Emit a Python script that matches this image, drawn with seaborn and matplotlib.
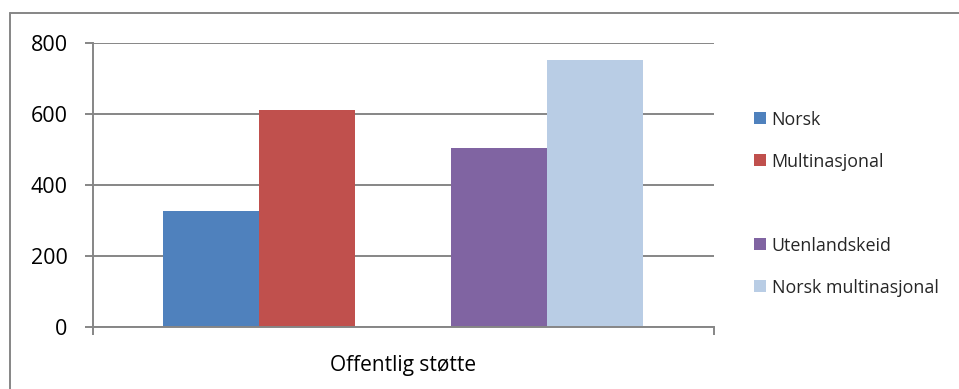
import numpy as np
import pandas as pd
import matplotlib
matplotlib.use("Agg")
import matplotlib.pyplot as plt
from matplotlib.patches import Patch
from matplotlib.lines import Line2D
import seaborn as sns

# ---- data ----
categories = ["Offentlig støtte"]
series = ["Norsk", "Multinasjonal", " ", "Utenlandskeid", "Norsk multinasjonal"]
values = [327, 611, np.nan, 504, 752]
colors = ["#4F81BD", "#C0504D", "#FFFFFF", "#8064A2", "#B9CDE5"]
yticks = [0, 200, 400, 600, 800]

df = pd.DataFrame({
    "kategori": [categories[0]] * len(series),
    "serie": series,
    "verdi": values,
})

sns.set_style("white")
plt.rcParams["font.family"] = ["Open Sans", "DejaVu Sans"]

W, H = 959, 389
fig = plt.figure(figsize=(W / 100, H / 100), dpi=100)
ax = fig.add_axes([92.7 / W, (H - 327) / H, (714 - 92.7) / W, (327 - 43.3) / H])

sns.barplot(data=df, x="kategori", y="verdi", hue="serie", hue_order=series,
            palette=colors, width=0.773, linewidth=0, saturation=1,
            legend=False, errorbar=None, ax=ax)

grid_c = "#868686"
ax.set_xlim(-0.5, 0.5)
ax.set_ylim(0, 800)
ax.set_yticks(yticks)
ax.set_yticklabels([str(t) for t in yticks])
ax.set_xlabel("")
ax.set_ylabel("")
ax.yaxis.grid(True, color=grid_c, linewidth=1.4)
ax.set_axisbelow(True)
for s in ["top", "right"]:
    ax.spines[s].set_visible(False)
for s in ["left", "bottom"]:
    ax.spines[s].set_color(grid_c)
    ax.spines[s].set_linewidth(1.4)

ax.tick_params(axis="y", which="major", length=6, width=1.4, color=grid_c,
               labelsize=15.5, pad=12, left=True, labelcolor="black")
ax.set_xticks([0])
ax.set_xticklabels(categories)
ax.tick_params(axis="x", which="major", length=0, labelsize=15, pad=20,
               labelcolor="black")
ax.set_xticks([-0.5, 0.5], minor=True)
ax.tick_params(axis="x", which="minor", length=6, width=1.4, color=grid_c,
               bottom=True)

handles = [Patch(facecolor=c, edgecolor="none") if s.strip() else
           Patch(facecolor="none", edgecolor="none")
           for s, c in zip(series, colors)]
fig.legend(handles=handles, labels=series, loc="center left",
           bbox_to_anchor=(754 / W, (H - 203.7) / H), frameon=False,
           fontsize=12.9, handlelength=0.66, handleheight=0.66,
           handletextpad=0.33, labelspacing=1.34, borderpad=0,
           borderaxespad=0)

# outer chart border (top and left edges visible)
fig.add_artist(Line2D([10 / W, 1.0], [(H - 13.3) / H] * 2, color=grid_c,
                      linewidth=1.4, transform=fig.transFigure))
fig.add_artist(Line2D([10 / W] * 2, [0.0, (H - 13.3) / H], color=grid_c,
                      linewidth=1.4, transform=fig.transFigure))

fig.savefig("out.png", dpi=100, facecolor="white")
